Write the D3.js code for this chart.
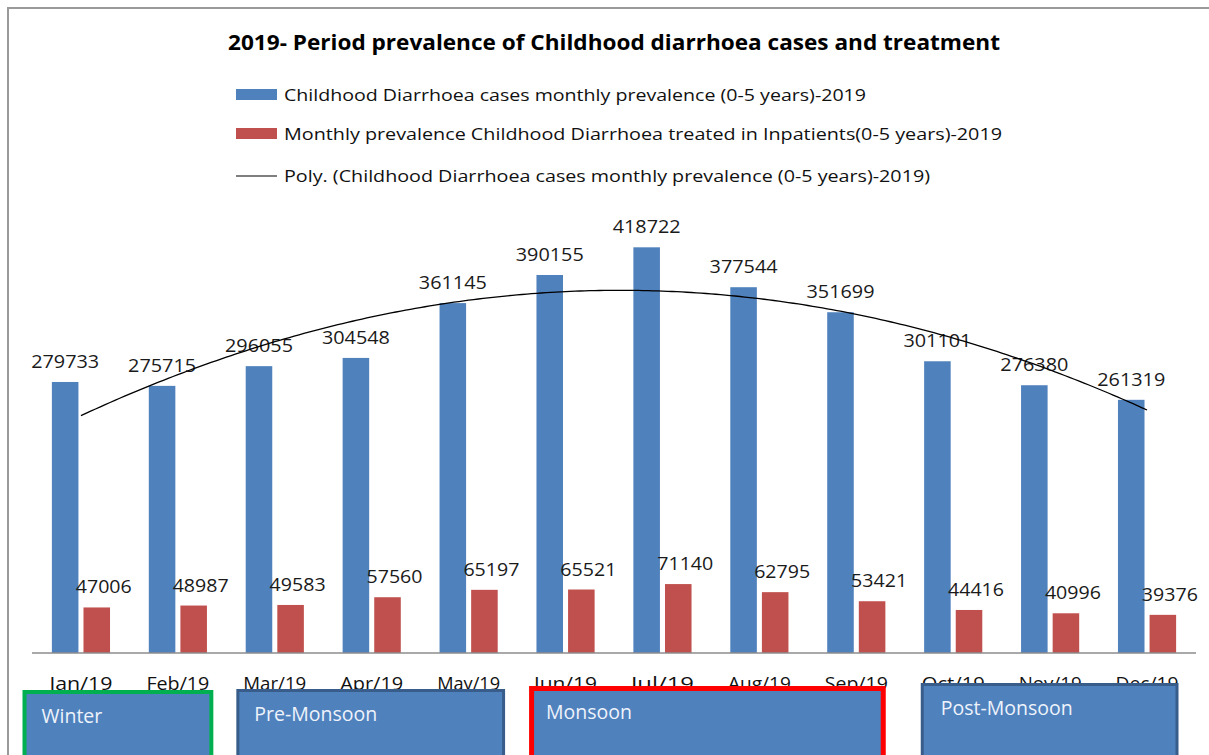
<!DOCTYPE html>
<html>
<head>
<meta charset="utf-8">
<script src="https://cdn.jsdelivr.net/npm/d3@7"></script>
<style>
  html, body { margin: 0; padding: 0; background: #fff; }
  svg { display: block; }
</style>
</head>
<body>
<svg id="chart" width="1209" height="755"></svg>
<script>
// ---- data ----
const months = ["Jan/19","Feb/19","Mar/19","Apr/19","May/19","Jun/19","Jul/19","Aug/19","Sep/19","Oct/19","Nov/19","Dec/19"];
const casesValues = [279733, 275715, 296055, 304548, 361145, 390155, 418722, 377544, 351699, 301101, 276380, 261319];
const inpatientValues = [47006, 48987, 49583, 57560, 65197, 65521, 71140, 62795, 53421, 44416, 40996, 39376];
const seriesNames = [
  "Childhood Diarrhoea cases monthly prevalence (0-5 years)-2019",
  "Monthly prevalence Childhood Diarrhoea treated in Inpatients(0-5 years)-2019",
  "Poly. (Childhood Diarrhoea cases monthly prevalence (0-5 years)-2019)"
];
const seasonNames = ["Winter", "Pre-Monsoon", "Monsoon", "Post-Monsoon"];
const seasonFirst = ["Jan/19", "Mar/19", "Jun/19", "Oct/19"];
const seasonLast = ["Feb/19", "May/19", "Sep/19", "Dec/19"];
const titleText = "2019- Period prevalence of Childhood diarrhoea cases and treatment";

// ---- layout ----
const W = 1209, H = 755;
const baseY = 653, topY = 217;
const svg = d3.select("#chart");
const FONT = "'Open Sans', 'Noto Sans', sans-serif";
const BLUE = "#4f81bd", RED = "#c0504d";

// chart frame
svg.append("path")
  .attr("d", `M8,${H} L8,8 L${W},8`)
  .attr("fill", "none").attr("stroke", "#9a9a9a").attr("stroke-width", 2);

// scales
const x0 = d3.scaleBand().domain(months).range([32.5, 1195.5]).paddingInner(0.4).paddingOuter(0.2);
const x1 = d3.scaleBand().domain(["cases", "inpatient"]).range([0, x0.bandwidth()]).paddingInner(0.16);
const y = d3.scaleLinear().domain([0, 450000]).range([baseY, topY]);
const cx = m => x0(m) + x0.bandwidth() / 2;

// title
svg.append("text")
  .attr("x", 614).attr("y", 50).attr("text-anchor", "middle")
  .attr("font-family", FONT).attr("font-weight", "bold").attr("font-size", 21)
  .attr("textLength", 772).attr("lengthAdjust", "spacingAndGlyphs")
  .attr("fill", "#000").text(titleText);

// legend
const legendRows = [
  {name: seriesNames[0], kind: "rect", color: BLUE, cy: 95, len: 582},
  {name: seriesNames[1], kind: "rect", color: RED, cy: 134, len: 718},
  {name: seriesNames[2], kind: "line", color: "#000", cy: 176, len: 646}
];
const lg = svg.append("g");
legendRows.forEach(r => {
  if (r.kind === "rect") {
    lg.append("rect").attr("x", 236).attr("y", r.cy - 6).attr("width", 41).attr("height", 11).attr("fill", r.color);
  } else {
    lg.append("line").attr("x1", 236).attr("x2", 277).attr("y1", r.cy).attr("y2", r.cy)
      .attr("stroke", r.color).attr("stroke-width", 1.2);
  }
  lg.append("text").attr("x", 284).attr("y", r.cy + 6)
    .attr("font-family", FONT).attr("font-size", 17).attr("fill", "#111")
    .attr("textLength", r.len).attr("lengthAdjust", "spacingAndGlyphs")
    .text(r.name);
});

// bars
const groups = svg.append("g").selectAll("g").data(months).join("g")
  .attr("transform", m => `translate(${x0(m)},0)`);
groups.append("rect")
  .attr("x", x1("cases")).attr("width", x1.bandwidth())
  .attr("y", (m, i) => y(casesValues[i]))
  .attr("height", (m, i) => baseY - y(casesValues[i]))
  .attr("fill", BLUE);
groups.append("rect")
  .attr("x", x1("inpatient")).attr("width", x1.bandwidth())
  .attr("y", (m, i) => y(inpatientValues[i]))
  .attr("height", (m, i) => baseY - y(inpatientValues[i]))
  .attr("fill", RED);

// value labels
groups.append("text")
  .attr("x", x1("cases") + x1.bandwidth() / 2)
  .attr("y", (m, i) => y(casesValues[i]) - 14)
  .attr("text-anchor", "middle").attr("font-family", FONT).attr("font-size", 17.5)
  .attr("fill", "#1a1a1a").attr("textLength", 68).attr("lengthAdjust", "spacingAndGlyphs")
  .text((m, i) => casesValues[i]);
groups.append("text")
  .attr("x", x1("inpatient") + x1.bandwidth() / 2 + 7)
  .attr("y", (m, i) => y(inpatientValues[i]) - 14)
  .attr("text-anchor", "middle").attr("font-family", FONT).attr("font-size", 17.5)
  .attr("fill", "#1a1a1a").attr("textLength", 56).attr("lengthAdjust", "spacingAndGlyphs")
  .text((m, i) => inpatientValues[i]);

// axis baseline
svg.append("line").attr("x1", 32).attr("x2", 1196).attr("y1", baseY).attr("y2", baseY)
  .attr("stroke", "#8c8c8c").attr("stroke-width", 1.5);

// category labels
svg.append("g").selectAll("text").data(months).join("text")
  .attr("x", m => cx(m)).attr("y", 690).attr("text-anchor", "middle")
  .attr("font-family", FONT).attr("font-size", 17.5).attr("fill", "#111")
  .attr("textLength", 63).attr("lengthAdjust", "spacingAndGlyphs")
  .text(m => m);

// 2nd-order polynomial trendline fitted to the monthly cases (least squares)
(function () {
  const n = casesValues.length;
  const xs = d3.range(1, n + 1);
  const S = k => d3.sum(xs, v => Math.pow(v, k));
  const T = k => d3.sum(xs, (v, i) => Math.pow(v, k) * casesValues[i]);
  const A = [[n, S(1), S(2)], [S(1), S(2), S(3)], [S(2), S(3), S(4)]];
  const B = [T(0), T(1), T(2)];
  // gaussian elimination
  for (let c = 0; c < 3; c++) {
    for (let r = c + 1; r < 3; r++) {
      const f = A[r][c] / A[c][c];
      for (let k = c; k < 3; k++) A[r][k] -= f * A[c][k];
      B[r] -= f * B[c];
    }
  }
  const coef = [0, 0, 0];
  for (let r = 2; r >= 0; r--) {
    let s = B[r];
    for (let k = r + 1; k < 3; k++) s -= A[r][k] * coef[k];
    coef[r] = s / A[r][r];
  }
  const fit = t => coef[0] + coef[1] * t + coef[2] * t * t;
  const step = x0.step();
  const firstC = cx(months[0]);
  const pts = d3.range(1, n + 0.001, 0.05).map(t => [firstC + (t - 1) * step, y(fit(t))]);
  svg.append("path").attr("d", d3.line()(pts))
    .attr("fill", "none").attr("stroke", "#000").attr("stroke-width", 1.3);
})();

// season annotation boxes
const boxStyle = [
  {stroke: "#00b050", sw: 4, dl: -10, dr: -13, top: 690, tx: 19, ty: 33},
  {stroke: "#385d8a", sw: 3, dl: 10, dr: -12, top: 689, tx: 18, ty: 32},
  {stroke: "#ff0000", sw: 5, dl: 12, dr: -19, top: 686, tx: 17, ty: 33},
  {stroke: "#385d8a", sw: 3, dl: 16, dr: -17, top: 683, tx: 20, ty: 32}
];
const boxes = svg.append("g");
seasonNames.forEach((name, i) => {
  const st = boxStyle[i];
  const left = x0(seasonFirst[i]) - x0.step() * x0.paddingInner() / 2 + st.dl;
  const right = x0(seasonLast[i]) + x0.bandwidth() + x0.step() * x0.paddingInner() / 2 + st.dr;
  boxes.append("rect")
    .attr("x", left + st.sw / 2).attr("y", st.top + st.sw / 2)
    .attr("width", right - left - st.sw).attr("height", 120)
    .attr("fill", BLUE).attr("stroke", st.stroke).attr("stroke-width", st.sw);
  boxes.append("text")
    .attr("x", left + st.tx).attr("y", st.top + st.ty)
    .attr("font-family", FONT).attr("font-size", 19.5).attr("fill", "#eef3fb")
    .text(name);
});
</script>
</body>
</html>
